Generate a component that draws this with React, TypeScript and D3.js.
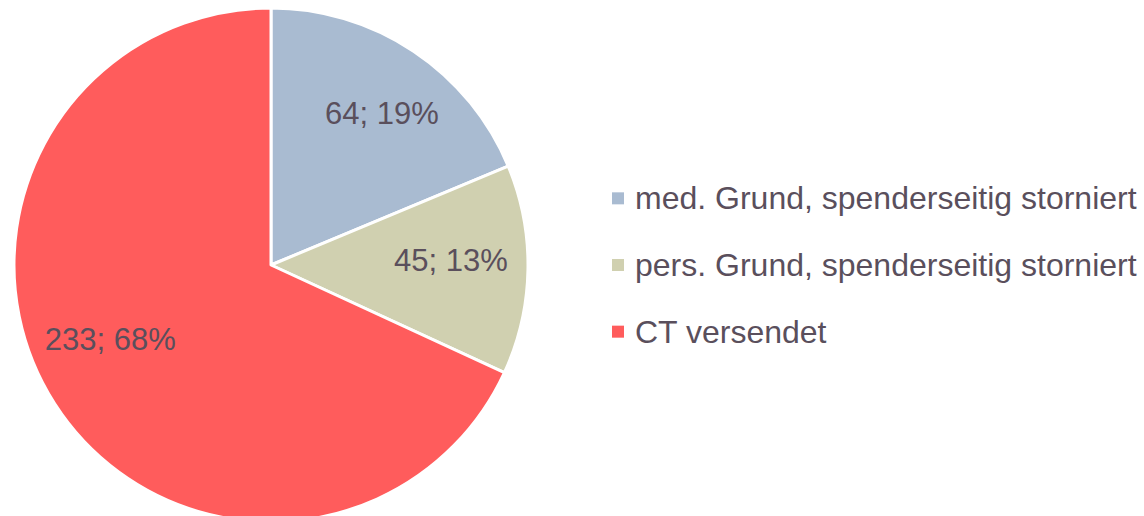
import React from "react";
import * as d3 from "d3";

const categories = [
  "med. Grund, spenderseitig storniert",
  "pers. Grund, spenderseitig storniert",
  "CT versendet",
];
const values = [64, 45, 233];
const colors = ["#A9BBD1", "#D0D0B0", "#FF5C5C"];

const W = 1144;
const H = 516;
const CX = 271;
const CY = 265;
const R = 257;
const TEXT = "#5A4F5C";
const FONT = "'Liberation Sans', Arial, sans-serif";
// label placement (best-fit style): radius fraction and angle nudge per slice
const labelRadius = [0.73, 0.7, 0.69];
const labelNudge = [0.045, -0.046, 0.134];

export default function App() {
  const total = d3.sum(values);
  const pie = d3
    .pie<number>()
    .sort(null)
    .startAngle(0)
    .endAngle(2 * Math.PI)
    .value((d) => d);
  const arcs = pie(values);
  const arc = d3.arc<d3.PieArcDatum<number>>().innerRadius(0).outerRadius(R);
  const legendY = d3.scaleBand<number>().domain(categories.map((_, i) => i)).range([165, 365]);

  return (
    <svg
      width={W}
      height={H}
      style={{ position: "absolute", left: 0, top: 0, background: "#fff" }}
      fontFamily={FONT}
    >
      <g transform={`translate(${CX},${CY})`}>
        {arcs.map((a, i) => (
          <path key={i} d={arc(a) || ""} fill={colors[i]} stroke="#fff" strokeWidth={3} strokeLinejoin="round" />
        ))}
        {arcs.map((a, i) => {
          const ang = (a.startAngle + a.endAngle) / 2 + labelNudge[i];
          const rr = R * labelRadius[i];
          const x = Math.sin(ang) * rr;
          const y = -Math.cos(ang) * rr;
          const pct = Math.round((values[i] / total) * 100);
          return (
            <text
              key={i}
              x={x}
              y={y}
              textAnchor="middle"
              dominantBaseline="central"
              fontSize={31}
              fill={TEXT}
            >
              {`${values[i]}; ${pct}%`}
            </text>
          );
        })}
      </g>
      {categories.map((c, i) => {
        const cy = (legendY(i) as number) + legendY.bandwidth() / 2;
        return (
          <g key={c}>
            <rect x={612} y={cy - 6} width={12} height={12} fill={colors[i]} />
            <text x={635} y={cy} dominantBaseline="central" fontSize={32} fill={TEXT}>
              {c}
            </text>
          </g>
        );
      })}
    </svg>
  );
}
